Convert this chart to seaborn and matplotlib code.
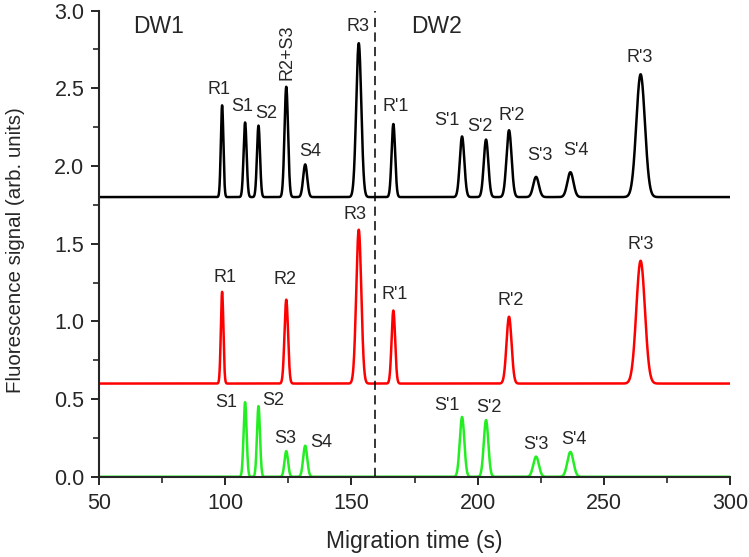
import numpy as np
import pandas as pd
import matplotlib
matplotlib.use("Agg")
import matplotlib.pyplot as plt
from matplotlib.ticker import MultipleLocator, FormatStrFormatter
import seaborn as sns

# peak tables (centre s, apex signal, width s)
black_base = 1.8
black_pos = [98.8, 107.9, 113.2, 124.2, 131.7, 152.9, 166.6, 193.8, 203.3, 212.4, 223.1, 236.7, 264.5]
black_top = [2.39, 2.28, 2.26, 2.51, 2.01, 2.79, 2.27, 2.19, 2.17, 2.23, 1.93, 1.96, 2.59]
black_sig = [0.5, 0.6, 0.6, 0.7, 0.8, 1.0, 0.7, 0.9, 0.9, 1.0, 1.1, 1.2, 1.7]
black_lab = ["R1", "S1", "S2", "R2+S3", "S4", "R3", "R'1", "S'1", "S'2", "R'2", "S'3", "S'4", "R'3"]

red_base = 0.6
red_pos = [98.8, 124.2, 152.9, 166.6, 212.4, 264.5]
red_top = [1.19, 1.14, 1.59, 1.07, 1.03, 1.39]
red_sig = [0.5, 0.7, 1.0, 0.7, 1.0, 1.7]
red_lab = ["R1", "R2", "R3", "R'1", "R'2", "R'3"]

green_base = 0.0
green_pos = [107.9, 113.2, 124.2, 131.7, 193.8, 203.3, 223.1, 236.7]
green_top = [0.48, 0.455, 0.165, 0.2, 0.385, 0.365, 0.13, 0.16]
green_sig = [0.6, 0.6, 0.7, 0.8, 0.9, 0.9, 1.1, 1.2]
green_lab = ["S1", "S2", "S3", "S4", "S'1", "S'2", "S'3", "S'4"]

# where each peak label sits (x, y)
black_lab_xy = [(97.4, 2.49), (106.9, 2.385), (116.1, 2.34), (124.5, 2.73), (133.5, 2.095),
                (152.6, 2.895), (167.4, 2.38), (187.8, 2.295), (200.8, 2.255), (213.6, 2.325),
                (224.5, 2.065), (238.8, 2.10), (264.1, 2.70)]
red_lab_xy = [(100.0, 1.285), (123.7, 1.268), (151.6, 1.687), (167.1, 1.172), (212.9, 1.135), (264.5, 1.494)]
green_lab_xy = [(100.5, 0.478), (119.0, 0.49), (123.6, 0.249), (137.9, 0.221),
                (187.8, 0.457), (204.3, 0.446), (223.2, 0.206), (237.9, 0.238)]

window_split = 159.5
window_names = ["DW1", "DW2"]
window_xy = [(73.5, 2.895), (183.6, 2.895)]

t = np.linspace(50, 300, 5001)


def trace(base, pos, top, sig):
    y = np.full_like(t, base)
    for p, h, s in zip(pos, top, sig):
        y += (h - base) * np.exp(-0.5 * ((t - p) / s) ** 2)
    return y


df = pd.DataFrame({
    "t": t,
    "black": trace(black_base, black_pos, black_top, black_sig),
    "red": trace(red_base, red_pos, red_top, red_sig),
    "green": trace(green_base, green_pos, green_top, green_sig),
})

sns.set_style("ticks")
plt.rcParams["font.family"] = ["Liberation Sans", "DejaVu Sans"]

fig = plt.figure(figsize=(7.49, 5.57), dpi=100)
ax = fig.add_axes([0.132, 0.144, 0.843, 0.837])

sns.lineplot(data=df, x="t", y="black", color="black", lw=1.8, ax=ax)
sns.lineplot(data=df, x="t", y="red", color="#ff0000", lw=1.8, ax=ax)
sns.lineplot(data=df, x="t", y="green", color="#22ee22", lw=1.8, ax=ax)

ax.axvline(window_split, color="black", ls=(0, (6, 3.5)), lw=1.1)

for labs, xy in [(black_lab, black_lab_xy), (red_lab, red_lab_xy), (green_lab, green_lab_xy)]:
    for lab, (x, y) in zip(labs, xy):
        rot = 90 if lab == "R2+S3" else 0
        ax.text(x, y, lab, ha="center", va="center", fontsize=13, rotation=rot)

for name, (x, y) in zip(window_names, window_xy):
    ax.text(x, y, name, ha="center", va="center", fontsize=16.5)

ax.set_xlim(50, 300)
ax.set_ylim(0, 3.0)
ax.xaxis.set_major_locator(MultipleLocator(50))
ax.xaxis.set_minor_locator(MultipleLocator(25))
ax.yaxis.set_major_locator(MultipleLocator(0.5))
ax.yaxis.set_minor_locator(MultipleLocator(0.25))
ax.yaxis.set_major_formatter(FormatStrFormatter("%.1f"))
ax.tick_params(which="major", length=6, width=1.4, labelsize=15.5, direction="out")
ax.tick_params(which="minor", length=4, width=1.2, direction="out")
ax.tick_params(axis="x", which="major", pad=6)
ax.tick_params(axis="y", which="major", pad=4.5)
sns.despine(ax=ax)
for s in ["left", "bottom"]:
    ax.spines[s].set_linewidth(1.5)

ax.set_xlabel("Migration time (s)", fontsize=16.5)
ax.set_ylabel("Fluorescence signal (arb. units)", fontsize=14.8)
ax.xaxis.set_label_coords(0.5, -0.115)
ax.yaxis.set_label_coords(-0.117, 0.487)

fig.savefig("out.png", dpi=100)
